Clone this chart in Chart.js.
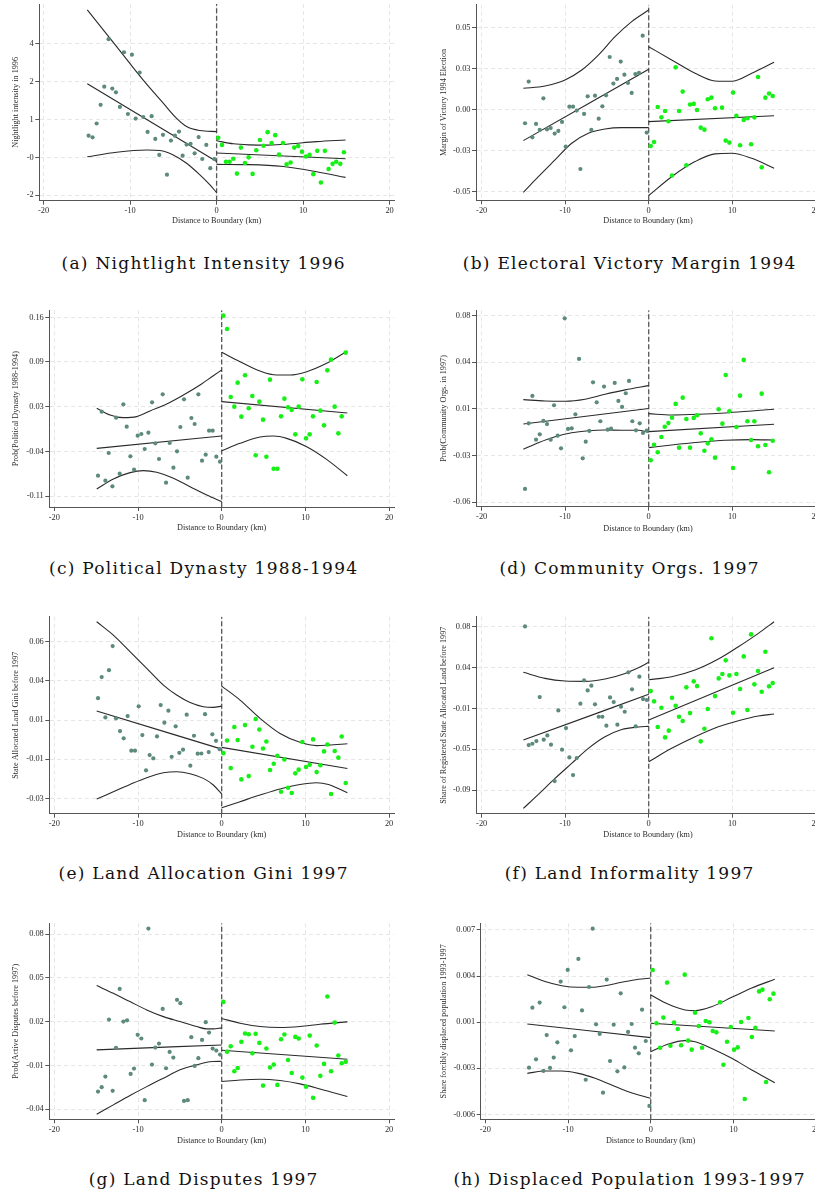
<!DOCTYPE html>
<html><head><meta charset="utf-8">
<script src="https://cdn.jsdelivr.net/npm/chart.js@4.4.1/dist/chart.umd.min.js"></script>
<style>
html,body{margin:0;padding:0;background:#fff;}
body{width:815px;height:1195px;overflow:hidden;position:relative;}
canvas{position:absolute;}
.cap{position:absolute;font-family:"DejaVu Serif",serif;font-size:17px;line-height:18px;color:#111;white-space:nowrap;}
</style></head><body>
<script>
// ---------- shared axis ----------
const X_TICKS = [-20, -10, 0, 10, 20];
const X_LABELS = ['-20', '-10', '0', '10', '20'];
const X_TITLE = 'Distance to Boundary (km)';

// ---------- (a) Nightlight Intensity 1996 ----------
const aLX = [-14.80,-14.34,-13.87,-13.41,-12.99,-12.49,-12.06,-11.64,-11.18,-10.71,-10.25,-9.79,-9.36,-8.90,-8.48,-7.98,-7.51,-7.09,-6.63,-6.20,-5.74,-5.28,-4.82,-4.35,-3.93,-3.47,-3.01,-2.54,-2.08,-1.66,-1.19,-0.73,-0.27];
const aLY = [0.40,0.34,0.85,1.54,2.21,3.96,2.14,2.00,1.46,3.48,1.20,3.39,1.03,2.73,1.09,0.54,1.12,0.28,-0.31,0.43,-1.04,0.22,0.40,0.55,-0.34,0.07,0.10,-0.25,0.35,-0.46,0.06,-0.80,-0.46];
const aRX = [0.19,0.62,1.08,1.50,1.93,2.35,2.81,3.28,3.70,4.16,4.59,5.01,5.43,5.90,6.36,6.78,7.21,7.67,8.09,8.55,8.98,9.44,9.87,10.33,10.75,11.18,11.64,12.06,12.52,12.95,13.41,13.83,14.30,14.72];
const aRY = [0.32,0.06,-0.56,-0.56,-0.45,-1.00,-0.04,-0.61,-0.40,-1.01,-0.14,0.24,0.03,0.53,0.13,0.42,-0.30,0.13,-0.66,-0.59,-0.04,0.02,-0.19,-0.37,-0.31,-1.02,-0.16,-1.33,-0.16,-0.83,-0.64,-0.56,-0.64,-0.21];
const aCiHiL = [[-14.95,5.04],[-11.56,3.69],[-8.48,2.45],[-6.17,1.60],[-4.62,1.04],[-3.47,0.74],[-1.93,0.59],[0,0.55]];
const aFitL = [[-14.95,2.32],[0,-0.55]];
const aCiLoL = [[-14.95,-0.38],[-11.56,-0.21],[-8.09,-0.13],[-6.55,-0.15],[-5.01,-0.31],[-3.47,-0.62],[-1.93,-1.05],[-0.77,-1.42],[0,-1.70]];
const aCiHiR = [[0,0.21],[1.93,0.10],[3.85,0.06],[5.78,0.05],[7.71,0.08],[11.56,0.18],[14.91,0.24]];
const aFitR = [[0,-0.24],[14.91,-0.45]];
const aCiLoR = [[0,-0.66],[3.85,-0.67],[7.71,-0.74],[11.56,-0.93],[14.91,-1.14]];
const aYT = [-1.8,-0.4,1.0,2.4,3.8];
const aYL = ['-2','-0','1','2','4'];

// ---------- (b) Electoral Victory Margin 1994 ----------
const bLX = [-14.81,-14.37,-13.93,-13.49,-13.05,-12.61,-12.18,-11.74,-11.26,-10.82,-10.38,-9.94,-9.50,-9.06,-8.62,-8.18,-7.74,-7.31,-6.87,-6.43,-5.99,-5.55,-5.11,-4.67,-4.23,-3.79,-3.35,-2.91,-2.48,-2.04,-1.60,-1.16,-0.72,-0.24];
const bLY = [-0.0083,0.0171,-0.0169,-0.0087,-0.0124,0.0069,-0.0120,-0.0112,-0.0146,-0.0130,-0.0075,-0.0226,0.0018,0.0018,-0.0006,-0.0362,-0.0026,0.0081,-0.0124,0.0085,-0.0055,0.0020,0.0087,0.0321,0.0159,0.0187,0.0293,0.0213,0.0163,0.0102,0.0217,0.0224,0.0451,-0.0140];
const bRX = [0.24,0.64,1.08,1.52,1.96,2.36,2.79,3.23,3.63,4.07,4.51,4.95,5.39,5.79,6.23,6.67,7.07,7.51,7.94,8.78,9.22,9.66,10.10,10.50,10.94,11.38,11.82,12.26,12.65,13.09,13.53,13.97,14.41,14.85];
const bRY = [-0.0222,-0.0197,0.0016,-0.0047,-0.0008,-0.0071,-0.0402,0.0258,-0.0008,0.0110,-0.0339,0.0031,0.0035,-0.0002,-0.0110,-0.0122,0.0063,0.0073,0.0008,0.0012,-0.0189,-0.0201,0.0104,-0.0037,-0.0217,-0.0063,-0.0053,-0.0211,-0.0047,0.0199,-0.0352,0.0073,0.0098,0.0083];
const bCiHiL = [[-15.01,0.0130],[-12.42,0.0144],[-10.02,0.0181],[-8.02,0.0242],[-6.03,0.0333],[-4.03,0.0445],[-2.04,0.0537],[0,0.0608]];
const bFitL = [[-15.01,-0.0189],[0,0.0246]];
const bCiLoL = [[-15.01,-0.0504],[-13.21,-0.0409],[-11.22,-0.0307],[-9.22,-0.0205],[-7.23,-0.0144],[-5.23,-0.0118],[-3.23,-0.0110],[0,-0.0110]];
const bCiHiR = [[0,0.0384],[2.75,0.0303],[5.55,0.0222],[7.94,0.0175],[9.94,0.0173],[12.34,0.0222],[15.01,0.0289]];
const bFitR = [[0,-0.0073],[15.01,-0.0037]];
const bCiLoR = [[0,-0.0524],[2.75,-0.0409],[5.55,-0.0317],[7.94,-0.0270],[9.94,-0.0266],[12.34,-0.0297],[15.01,-0.0358]];
const bYT = [-0.05,-0.025,0,0.025,0.05];
const bYL = ['-0.05','-0.03','0.00','0.03','0.05'];

// ---------- (c) Political Dynasty 1988-1994 ----------
const cLX = [-14.78,-14.34,-13.90,-13.50,-13.06,-12.62,-12.19,-11.75,-11.35,-10.91,-10.47,-10.04,-9.60,-9.20,-8.76,-8.32,-7.93,-7.49,-7.05,-6.65,-6.21,-5.77,-5.34,-4.94,-4.50,-4.06,-3.62,-3.23,-2.79,-2.35,-1.91,-1.51,-1.08,-0.64,-0.20];
const cLY = [-0.0793,0.0174,-0.0868,-0.0450,-0.0954,0.0084,-0.0762,0.0285,-0.0052,-0.0501,-0.0702,-0.0188,-0.0163,-0.0390,-0.0143,0.0315,-0.0304,-0.0541,0.0436,-0.0899,-0.0299,-0.0672,-0.0425,-0.0057,0.0361,-0.0823,0.0079,-0.0012,0.0436,-0.0566,-0.0475,-0.0113,-0.0113,-0.0506,-0.0581];
const cRX = [0.20,0.64,1.08,1.51,1.91,2.35,2.79,3.23,3.66,4.06,4.50,4.94,5.34,5.77,6.21,6.65,7.09,7.49,7.93,8.36,8.80,9.20,9.64,10.08,10.51,10.91,11.35,11.79,12.23,12.62,13.06,13.50,13.94,14.34,14.81];
const cRY = [0.1625,0.1424,0.0396,0.0250,0.0613,0.0099,0.0724,0.0225,0.0411,-0.0485,0.0326,0.0054,-0.0506,0.0658,-0.0687,-0.0687,0.0104,0.0371,0.0240,0.0200,-0.0168,0.0250,0.0663,-0.0229,-0.0168,0.0104,0.0623,0.0190,-0.0032,0.0799,0.0960,0.0250,-0.0153,0.0104,0.1066];
const cCiHiL = [[-14.93,0.0225],[-13.34,0.0124],[-11.75,0.0084],[-10.16,0.0099],[-8.56,0.0185],[-6.57,0.0290],[-4.58,0.0426],[-2.59,0.0577],[-1.00,0.0718],[0,0.0804]];
const cFitL = [[-14.93,-0.0380],[0,-0.0193]];
const cCiLoL = [[-14.93,-0.0994],[-12.94,-0.0843],[-10.95,-0.0747],[-9.36,-0.0717],[-7.77,-0.0742],[-5.77,-0.0833],[-3.78,-0.0959],[-1.79,-0.1085],[0,-0.1186]];
const cCiHiR = [[0,0.1071],[2.19,0.0930],[4.58,0.0789],[6.57,0.0729],[8.16,0.0729],[10.16,0.0779],[12.54,0.0905],[15.01,0.1091]];
const cFitR = [[0,0.0326],[15.01,0.0154]];
const cCiLoR = [[0,-0.0415],[2.19,-0.0304],[4.58,-0.0208],[6.17,-0.0193],[7.77,-0.0229],[10.16,-0.0354],[12.54,-0.0546],[15.01,-0.0793]];
const cYT = [-0.11,-0.0425,0.025,0.0925,0.16];
const cYL = ['-0.11','-0.04','0.03','0.09','0.16'];

// ---------- (d) Community Orgs. 1997 ----------
const dLX = [-14.81,-14.37,-13.93,-13.49,-13.05,-12.61,-12.18,-11.74,-11.34,-10.90,-10.50,-10.06,-9.66,-9.22,-8.78,-8.34,-7.90,-7.54,-7.11,-6.67,-6.23,-5.79,-5.35,-4.91,-4.51,-4.07,-3.63,-3.19,-2.75,-2.36,-1.96,-1.52,-1.08,-0.68,-0.24];
const dLY = [-0.0500,-0.0008,0.0198,-0.0130,-0.0090,0.0010,-0.0013,-0.0130,0.0128,-0.0100,-0.0195,0.0780,-0.0050,-0.0045,0.0060,0.0475,-0.0270,-0.0145,-0.0065,0.0300,0.0150,0.0008,0.0268,-0.0055,-0.0048,0.0295,0.0160,0.0115,0.0218,0.0310,0.0008,-0.0060,-0.0008,-0.0080,-0.0063];
const dRX = [0.24,0.64,1.08,1.52,1.92,2.36,2.79,3.23,3.63,4.07,4.51,4.95,5.39,5.79,6.23,6.67,7.07,7.51,7.94,8.38,8.82,9.22,9.66,10.10,10.50,10.94,11.38,11.82,12.26,12.65,13.09,13.53,13.97,14.41,14.85];
const dRY = [-0.0285,-0.0168,-0.0225,-0.0110,-0.0033,-0.0005,0.0035,0.0138,-0.0190,0.0185,0.0025,-0.0190,0.0033,0.0053,-0.0083,-0.0213,-0.0158,-0.0128,-0.0265,0.0098,-0.0010,0.0355,0.0083,-0.0343,-0.0035,0.0200,0.0468,0.0008,-0.0133,0.0008,-0.0180,0.0215,-0.0170,-0.0375,-0.0138];
const dCiHiL = [[-15.01,0.0170],[-12.42,0.0160],[-10.02,0.0158],[-7.62,0.0173],[-5.23,0.0210],[-2.83,0.0243],[0,0.0275]];
const dFitL = [[-15.01,-0.0013],[0,0.0103]];
const dCiLoL = [[-15.01,-0.0203],[-13.21,-0.0153],[-11.22,-0.0108],[-9.22,-0.0078],[-7.23,-0.0063],[-5.23,-0.0058],[-3.23,-0.0060],[-1.24,-0.0060],[0,-0.0075]];
const dCiHiR = [[0,0.0065],[2.75,0.0055],[5.95,0.0060],[9.14,0.0070],[12.34,0.0085],[15.01,0.0098]];
const dFitR = [[0,-0.0070],[15.01,-0.0015]];
const dCiLoR = [[0,-0.0190],[2.75,-0.0170],[5.95,-0.0150],[9.14,-0.0135],[12.34,-0.0130],[15.01,-0.0133]];
const dYT = [-0.06,-0.025,0.01,0.045,0.08];
const dYL = ['-0.06','-0.03','0.01','0.04','0.08'];

// ---------- (e) Land Allocation Gini 1997 ----------
const eLX = [-14.78,-14.34,-13.90,-13.47,-13.03,-12.63,-12.15,-11.71,-11.24,-10.80,-10.36,-9.92,-9.48,-9.04,-8.61,-8.17,-7.73,-7.29,-6.85,-6.37,-5.98,-5.50,-5.06,-4.62,-4.18,-3.75,-3.31,-2.87,-2.43,-1.99,-1.55,-1.12,-0.68,-0.24];
const eLY = [0.0276,0.0397,0.0165,0.0437,0.0575,0.0160,0.0087,0.0045,0.0173,-0.0026,-0.0026,0.0229,0.0064,-0.0139,-0.0051,-0.0070,0.0056,0.0236,0.0135,0.0204,-0.0061,0.0114,-0.0038,-0.0020,0.0181,-0.0112,0.0060,-0.0043,-0.0042,0.0184,-0.0034,0.0068,0.0031,-0.0017];
const eRX = [0.20,0.64,1.08,1.51,1.91,2.35,2.79,3.23,3.67,4.06,4.50,4.94,5.34,5.78,6.22,6.65,7.09,7.49,7.93,8.37,8.80,9.20,9.64,10.08,10.52,10.92,11.35,11.79,12.23,12.63,13.07,13.51,13.94,14.34,14.82];
const eRY = [-0.0040,0.0033,-0.0126,0.0110,0.0035,-0.0191,0.0121,-0.0172,-0.0003,0.0156,0.0096,-0.0013,0.0027,-0.0137,-0.0101,-0.0055,-0.0262,-0.0076,-0.0239,-0.0269,-0.0156,-0.0135,0.0024,-0.0120,-0.0107,0.0039,-0.0149,-0.0110,-0.0030,0.0010,-0.0275,-0.0028,-0.0066,0.0056,-0.0212];
const eCiHiL = [[-14.94,0.0715],[-12.95,0.0638],[-10.96,0.0543],[-8.96,0.0447],[-6.97,0.0351],[-5.38,0.0294],[-3.78,0.0251],[-2.19,0.0227],[-1.00,0.0223],[0,0.0230]];
const eFitL = [[-14.94,0.0202],[0,-0.0017]];
const eCiLoL = [[-14.94,-0.0304],[-12.95,-0.0262],[-10.96,-0.0220],[-8.96,-0.0181],[-6.97,-0.0153],[-5.38,-0.0147],[-3.78,-0.0158],[-2.19,-0.0185],[-1.00,-0.0223],[0,-0.0275]];
const eCiHiR = [[0,0.0345],[2.19,0.0265],[4.58,0.0160],[6.97,0.0073],[9.36,0.0022],[11.35,0.0003],[12.75,0.0006],[15.02,0.0014]];
const eFitR = [[0,-0.0007],[15.02,-0.0128]];
const eCiLoR = [[0,-0.0354],[2.19,-0.0319],[4.58,-0.0281],[6.97,-0.0246],[9.36,-0.0220],[11.35,-0.0210],[12.75,-0.0220],[15.02,-0.0267]];
const eYT = [-0.03,-0.0075,0.015,0.0375,0.06];
const eYL = ['-0.03','-0.01','0.01','0.04','0.06'];

// ---------- (f) Land Informality 1997 ----------
const fLX = [-14.81,-14.37,-13.93,-13.45,-13.05,-12.57,-12.14,-11.70,-11.26,-10.82,-10.38,-9.90,-9.50,-9.06,-8.62,-8.18,-7.74,-7.31,-6.87,-6.43,-5.99,-5.55,-5.07,-4.63,-4.19,-3.75,-3.31,-2.87,-2.44,-2.00,-1.56,-1.12,-0.68,-0.24];
const fLY = [0.0803,-0.0432,-0.0418,-0.0390,0.0068,-0.0376,-0.0331,-0.0428,-0.0806,-0.0071,-0.0480,-0.0255,-0.0560,-0.0744,-0.0567,-0.0001,0.0241,0.0137,0.0186,-0.0008,-0.0137,-0.0137,-0.0230,0.0064,0.0016,-0.0220,-0.0033,-0.0085,0.0325,0.0148,-0.0237,0.0280,0.0047,0.0037];
const fRX = [0.24,0.64,1.08,1.52,1.96,2.40,2.79,3.23,3.63,4.07,4.51,4.95,5.39,5.79,6.23,6.67,7.07,7.51,7.94,8.38,8.82,9.22,9.66,10.10,10.50,10.94,11.38,11.82,12.26,12.65,13.09,13.53,13.97,14.41,14.85];
const fRY = [0.0130,0.0023,-0.0244,-0.0043,-0.0352,-0.0282,0.0061,-0.0022,-0.0137,-0.0182,0.0169,-0.0099,0.0231,0.0182,-0.0393,-0.0262,-0.0057,0.0679,0.0078,0.0262,0.0307,0.0450,0.0293,-0.0095,0.0307,0.0151,0.0491,-0.0067,0.0720,0.0200,0.0339,0.0123,0.0540,0.0179,0.0214];
const fCiHiL = [[-15.01,0.0325],[-12.42,0.0262],[-10.02,0.0235],[-7.62,0.0231],[-5.23,0.0255],[-2.83,0.0314],[-1.24,0.0373],[0,0.0429]];
const fFitL = [[-15.01,-0.0380],[0,0.0096]];
const fCiLoL = [[-15.01,-0.1091],[-13.21,-0.0945],[-11.22,-0.0779],[-9.22,-0.0622],[-7.23,-0.0466],[-5.23,-0.0345],[-3.23,-0.0269],[-1.24,-0.0244],[0,-0.0237]];
const fCiHiR = [[0,0.0248],[2.75,0.0280],[5.55,0.0349],[8.34,0.0463],[10.74,0.0592],[13.13,0.0731],[15.01,0.0852]];
const fFitR = [[0,-0.0171],[15.01,0.0373]];
const fCiLoR = [[0,-0.0605],[2.75,-0.0466],[5.55,-0.0345],[8.34,-0.0241],[10.74,-0.0178],[13.13,-0.0130],[15.01,-0.0109]];
const fYT = [-0.09,-0.0475,-0.005,0.0375,0.08];
const fYL = ['-0.09','-0.05','-0.01','0.04','0.08'];

// ---------- (g) Land Disputes 1997 ----------
const gLX = [-14.78,-14.34,-13.90,-13.47,-13.03,-12.63,-12.19,-11.75,-11.31,-10.88,-10.48,-10.04,-9.60,-9.20,-8.76,-8.33,-7.93,-7.49,-7.05,-6.65,-6.22,-5.78,-5.34,-4.94,-4.50,-4.06,-3.63,-3.23,-2.79,-2.35,-1.91,-1.51,-1.08,-0.64,-0.20];
const gLY = [-0.0279,-0.0249,-0.0176,0.0215,-0.0274,0.0021,0.0425,0.0201,0.0210,-0.0158,-0.0121,0.0110,0.0085,-0.0338,0.0839,-0.0094,0.0023,0.0050,0.0288,-0.0119,-0.0007,-0.0046,0.0350,0.0327,-0.0343,-0.0338,0.0094,-0.0103,-0.0050,0.0075,0.0197,0.0126,0.0016,0.0002,-0.0025];
const gRX = [0.20,0.64,1.08,1.51,1.91,2.35,2.79,3.23,3.67,4.06,4.50,4.94,5.34,5.78,6.22,6.65,7.09,7.49,7.93,8.37,8.80,9.20,9.64,10.08,10.52,10.92,11.35,11.79,12.23,12.63,13.07,13.51,13.94,14.34,14.82];
const gRY = [0.0336,-0.0005,0.0032,-0.0139,-0.0117,0.0062,0.0119,0.0114,-0.0016,0.0117,0.0055,-0.0238,0.0016,-0.0114,-0.0094,-0.0233,0.0080,0.0112,-0.0062,-0.0151,0.0096,0.0085,-0.0183,-0.0245,0.0105,-0.0322,0.0037,-0.0171,-0.0089,0.0373,-0.0139,0.0194,-0.0032,-0.0085,-0.0075];
const gCiHiL = [[-14.94,0.0448],[-12.95,0.0395],[-10.96,0.0338],[-8.96,0.0281],[-6.97,0.0235],[-4.98,0.0201],[-2.99,0.0167],[-1.79,0.0151],[-1.00,0.0151],[0,0.0158]];
const gFitL = [[-14.94,0.0007],[0,0.0041]];
const gCiLoL = [[-14.94,-0.0434],[-12.95,-0.0370],[-10.96,-0.0306],[-8.96,-0.0245],[-6.97,-0.0187],[-4.98,-0.0130],[-2.99,-0.0096],[-1.79,-0.0078],[-1.00,-0.0073],[0,-0.0071]];
const gCiHiR = [[0,0.0222],[2.19,0.0190],[4.58,0.0167],[6.97,0.0160],[9.36,0.0167],[11.75,0.0183],[15.02,0.0199]];
const gFitR = [[0,0.0005],[15.02,-0.0057]];
const gCiLoR = [[0,-0.0210],[2.19,-0.0199],[4.58,-0.0194],[6.97,-0.0203],[9.36,-0.0226],[11.75,-0.0261],[15.02,-0.0313]];
const gYT = [-0.04,-0.01,0.02,0.05,0.08];
const gYL = ['-0.04','-0.01','0.02','0.05','0.08'];

// ---------- (h) Displaced Population 1993-1997 ----------
const hLX = [-14.72,-14.31,-13.87,-13.43,-12.98,-12.58,-12.18,-11.73,-11.29,-10.89,-10.44,-10.04,-9.64,-9.19,-8.75,-8.31,-7.86,-7.46,-7.02,-6.61,-6.17,-5.77,-5.32,-4.92,-4.48,-4.03,-3.63,-3.19,-2.74,-2.30,-1.90,-1.45,-1.05,-0.60,-0.16];
const hLY = [-0.00271,0.00152,-0.00212,0.00188,-0.00294,-0.00041,-0.00273,-0.00200,-0.00092,0.00336,0.00155,0.00418,-0.00149,-0.00048,0.00496,0.00133,-0.00356,0.00298,0.00709,0.00035,-0.00033,-0.00447,0.00350,-0.00224,0.00032,-0.00297,0.00253,-0.00269,-0.00019,0.00037,-0.00130,-0.00170,0.00138,-0.00083,-0.00541];
const hRX = [0.24,0.69,1.13,1.53,1.98,2.38,2.82,3.27,3.67,4.11,4.52,4.96,5.36,5.81,6.21,6.65,7.10,7.50,7.94,8.39,8.79,9.23,9.68,10.08,10.52,10.93,11.37,11.81,12.22,12.66,13.10,13.51,13.95,14.40,14.84];
const hRY = [0.00418,0.00042,-0.00130,0.00082,0.00329,-0.00116,0.00047,0.00002,-0.00113,0.00385,-0.00080,-0.00144,0.00117,0.00023,-0.00130,0.00058,0.00049,-0.00012,-0.00022,0.00190,-0.00250,-0.00088,0.00016,-0.00144,-0.00128,0.00051,-0.00492,0.00079,-0.00055,0.00011,0.00267,0.00279,-0.00372,0.00211,0.00251];
const hCiHiL = [[-14.92,0.00385],[-12.78,0.00336],[-10.77,0.00307],[-8.75,0.00296],[-7.14,0.00296],[-5.52,0.00307],[-3.51,0.00331],[-1.49,0.00352],[0,0.00361]];
const hFitL = [[-14.92,0.00037],[0,-0.00059]];
const hCiLoL = [[-14.92,-0.00311],[-12.78,-0.00294],[-10.77,-0.00294],[-8.75,-0.00311],[-6.73,-0.00346],[-4.72,-0.00393],[-2.70,-0.00440],[0,-0.00487]];
const hCiHiR = [[0,0.00242],[2.14,0.00176],[4.15,0.00136],[5.36,0.00131],[7.38,0.00159],[9.80,0.00225],[12.22,0.00291],[15.00,0.00352]];
const hFitR = [[0,0.00042],[15.00,-0.00012]];
const hCiLoR = [[0,-0.00158],[2.14,-0.00104],[4.15,-0.00080],[5.36,-0.00088],[7.38,-0.00135],[9.80,-0.00205],[12.22,-0.00287],[15.00,-0.00377]];
const hYT = [-0.006,-0.00275,0.0005,0.00375,0.007];
const hYL = ['-0.006','-0.003','0.001','0.004','0.007'];

// ---------- text ----------
const CAPTIONS = ['(a) Nightlight Intensity 1996','(b) Electoral Victory Margin 1994','(c) Political Dynasty 1988-1994','(d) Community Orgs. 1997','(e) Land Allocation Gini 1997','(f) Land Informality 1997','(g) Land Disputes 1997','(h) Displaced Population 1993-1997'];
const Y_TITLES = ['Nightlight intensity in 1996','Margin of Victory 1994 Election','Prob(Political Dynasty 1988-1994)','Prob(Community Orgs. in 1997)','State Allocated Land Gini before 1997','Share of Registered State Allocated Land before 1997','Prob(Active Disputes before 1997)','Share forcibly displaced population 1993-1997'];

// ---------- panel data bundles ----------
const DATA = [
  {lx:aLX,ly:aLY,rx:aRX,ry:aRY,curves:[aCiHiL,aFitL,aCiLoL,aCiHiR,aFitR,aCiLoR],yt:aYT,yl:aYL},
  {lx:bLX,ly:bLY,rx:bRX,ry:bRY,curves:[bCiHiL,bFitL,bCiLoL,bCiHiR,bFitR,bCiLoR],yt:bYT,yl:bYL},
  {lx:cLX,ly:cLY,rx:cRX,ry:cRY,curves:[cCiHiL,cFitL,cCiLoL,cCiHiR,cFitR,cCiLoR],yt:cYT,yl:cYL},
  {lx:dLX,ly:dLY,rx:dRX,ry:dRY,curves:[dCiHiL,dFitL,dCiLoL,dCiHiR,dFitR,dCiLoR],yt:dYT,yl:dYL},
  {lx:eLX,ly:eLY,rx:eRX,ry:eRY,curves:[eCiHiL,eFitL,eCiLoL,eCiHiR,eFitR,eCiLoR],yt:eYT,yl:eYL},
  {lx:fLX,ly:fLY,rx:fRX,ry:fRY,curves:[fCiHiL,fFitL,fCiLoL,fCiHiR,fFitR,fCiLoR],yt:fYT,yl:fYL},
  {lx:gLX,ly:gLY,rx:gRX,ry:gRY,curves:[gCiHiL,gFitL,gCiLoL,gCiHiR,gFitR,gCiLoR],yt:gYT,yl:gYL},
  {lx:hLX,ly:hLY,rx:hRX,ry:hRY,curves:[hCiHiL,hFitL,hCiLoL,hCiHiR,hFitR,hCiLoR],yt:hYT,yl:hYL}
];

// ---------- layout (page px) ----------
const LAYOUT = [
  {area:[39.3,4,394,200.7],     xr:[-20.5,20.51],  yr:[-2.0,5.26],       yTitleX:16,  xTitleY:220.7, capX:203, capY:263},
  {area:[476,4.7,820,200.3],    xr:[-20.68,20.51], yr:[-0.0553,0.064],   yTitleX:444, xTitleY:221,   capX:629, capY:263},
  {area:[49.3,310.3,394,507],   xr:[-20.6,20.59],  yr:[-0.1266,0.1706],  yTitleX:16,  xTitleY:528.3, capX:203, capY:568},
  {area:[476,310.3,820,506.7],  xr:[-20.68,20.51], yr:[-0.0633,0.084],   yTitleX:444, xTitleY:528.7, capX:629, capY:568},
  {area:[49.3,616.7,394,813.7], xr:[-20.6,20.59],  yr:[-0.0388,0.0744],  yTitleX:16,  xTitleY:835,   capX:203, capY:873},
  {area:[476,616.7,820,813.7],  xr:[-20.68,20.51], yr:[-0.1146,0.0904],  yTitleX:444, xTitleY:834.7, capX:629, capY:873},
  {area:[49.3,923.3,394,1119.3],xr:[-20.6,20.59],  yr:[-0.0469,0.0875],  yTitleX:16,  xTitleY:1141,  capX:203, capY:1179},
  {area:[480.7,923.3,820.5,1119.3],xr:[-20.56,20.53],yr:[-0.00635,0.00747],yTitleX:444,xTitleY:1141, capX:629, capY:1179}
];

const SERIF = '"Liberation Serif","Times New Roman",serif';
const TICK_FONT = {family:SERIF, size:8.4, lineHeight:1.2};
const TITLE_FONT = {family:SERIF, size:8.2, lineHeight:1.2};
const TXT = '#2b2b2b';
const LEFT_C = '#5d8a7d';
const RIGHT_C = '#17f017';

function pts(xs, ys){ return xs.map((x,i)=>({x:x, y:ys[i]})); }
function pairs(arr){ return arr.map(p=>({x:p[0], y:p[1]})); }

function build(d, L, yTitle){
  const [l,t,r,b] = L.area;
  const cl = Math.round(l - 50), ct = Math.round(t - 8);
  const W = Math.round(r + 14) - cl, H = Math.round(b + 34) - ct;
  const yW = l - cl, padTop = t - ct, padRight = W - (r - cl), xH = H - (b - ct);
  const lhT = TITLE_FONT.size * 1.2;
  const yTitlePad = L.yTitleX - cl - lhT/2;
  const xTitlePad = ct + H - L.xTitleY - lhT/2;

  const cv = document.createElement('canvas');
  cv.width = W; cv.height = H;
  cv.style.left = cl + 'px'; cv.style.top = ct + 'px';
  cv.style.width = W + 'px'; cv.style.height = H + 'px';
  document.body.appendChild(cv);

  const datasets = [
    {data:pts(d.lx,d.ly), showLine:false, pointRadius:2.1, pointBackgroundColor:LEFT_C, pointBorderWidth:0, pointHoverRadius:2.1},
    {data:pts(d.rx,d.ry), showLine:false, pointRadius:2.3, pointBackgroundColor:RIGHT_C, pointBorderWidth:0, pointHoverRadius:2.3}
  ];
  d.curves.forEach(c=>datasets.push({data:pairs(c), showLine:true, pointRadius:0, borderColor:'#2a2a2a', borderWidth:1.1, cubicInterpolationMode:'monotone', fill:false}));
  datasets.push({data:[{x:0,y:L.yr[0]},{x:0,y:L.yr[1]}], showLine:true, pointRadius:0, borderColor:'#555', borderWidth:1.3, borderDash:[5,2.5], fill:false});

  new Chart(cv, {
    type:'scatter',
    data:{datasets:datasets},
    options:{
      responsive:false, animation:false, devicePixelRatio:1,
      layout:{padding:{left:0, top:padTop, right:padRight, bottom:0}},
      plugins:{legend:{display:false}, tooltip:{enabled:false}},
      scales:{
        x:{type:'linear', min:L.xr[0], max:L.xr[1],
           afterBuildTicks:s=>{ s.ticks = X_TICKS.map(v=>({value:v})); },
           afterFit:s=>{ s.height = xH; },
           ticks:{callback:(v,i)=>X_LABELS[i], font:TICK_FONT, color:TXT, padding:1.5, maxRotation:0, autoSkip:false},
           grid:{color:'#e6e6e6', lineWidth:1, tickColor:'#555', tickLength:4},
           border:{display:true, color:'#555', width:1, dash:[4,3]},
           title:{display:true, text:X_TITLE, font:TITLE_FONT, color:TXT, padding:{top:0,bottom:xTitlePad}}
        },
        y:{type:'linear', min:L.yr[0], max:L.yr[1],
           afterBuildTicks:s=>{ s.ticks = d.yt.map(v=>({value:v})); },
           afterFit:s=>{ s.width = yW; },
           ticks:{callback:(v,i)=>d.yl[i], font:TICK_FONT, color:TXT, padding:1.5, autoSkip:false},
           grid:{color:'#e6e6e6', lineWidth:1, tickColor:'#555', tickLength:4},
           border:{display:true, color:'#555', width:1, dash:[4,3]},
           title:{display:true, text:yTitle, font:TITLE_FONT, color:TXT, padding:{top:yTitlePad,bottom:0}}
        }
      }
    }
  });
}

DATA.forEach((d,i)=>build(d, LAYOUT[i], Y_TITLES[i]));

// captions
const CAP_FONT = '17px "DejaVu Serif", serif';
const mctx = document.createElement('canvas').getContext('2d');
mctx.font = CAP_FONT;
const natA = mctx.measureText(CAPTIONS[0]).width;
const LS = Math.max(-1, Math.min(2, (283 - natA) / (CAPTIONS[0].length - 1)));
CAPTIONS.forEach((txt,i)=>{
  const L = LAYOUT[i];
  const el = document.createElement('div');
  el.className = 'cap';
  el.textContent = txt;
  el.style.letterSpacing = LS.toFixed(2) + 'px';
  const w = mctx.measureText(txt).width + LS * (txt.length - 1);
  el.style.left = (L.capX - w/2) + 'px';
  el.style.top = (L.capY - 9) + 'px';
  document.body.appendChild(el);
});
</script>
</body></html>
